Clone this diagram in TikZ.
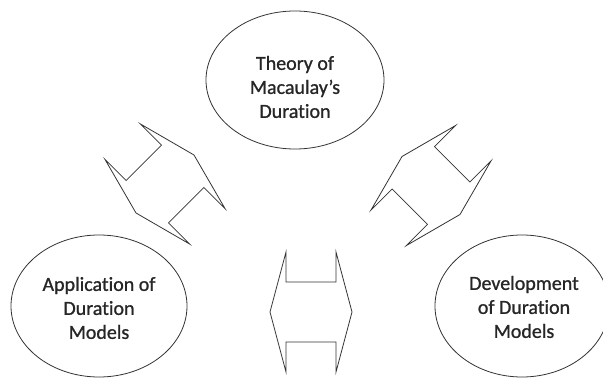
\documentclass[tikz,border=0pt]{standalone}
\usepackage{fontspec}
\setmainfont[RawFeature={-liga}]{Carlito}
\newfontfamily\semib[FakeBold=1,RawFeature={-liga}]{Carlito}
\usetikzlibrary{shapes.geometric}
\tikzset{
  bubble/.style={ellipse, draw=black!80, line width=0.8pt, inner sep=0pt},
  txt/.style={align=center, text=black!85, font=\semib\fontsize{20}{24}\selectfont, inner sep=0pt},
  dbl/.style={draw=black!80, line width=0.8pt, line join=miter},
  pics/dblarrow/.style={code={
    \draw[dbl] (-41,0) -- (-25,60) -- (-25,30) -- (25,30) -- (25,60) -- (41,0)
      -- (25,-60) -- (25,-30) -- (-25,-30) -- (-25,-60) -- cycle;
  }}
}
\begin{document}
\begin{tikzpicture}[x=1pt,y=1pt]
\useasboundingbox (0,0) rectangle (603,378);
\clip (0,0) rectangle (603,378);
\node[bubble, minimum width=178pt, minimum height=138pt] (top) at (295,298) {};
\node[bubble, minimum width=176pt, minimum height=142pt] (left) at (99,72) {};
\node[bubble, minimum width=174pt, minimum height=142pt] (right) at (522,72) {};
\node[txt] (toptxt) at (295,291) {Theory of\\Macaulay’s\\Duration};
\node[txt] (lefttxt) at (99,70) {Application of\\Duration\\Models};
\node[txt] (righttxt) at (524,71) {Development\\of Duration\\Models};
\pic[shift={(165,194)}, rotate=45] (arrL) {dblarrow};
\pic[shift={(431,192.5)}, rotate=-45] (arrR) {dblarrow};
\pic[shift={(311,66)}] (arrB) {dblarrow};
\end{tikzpicture}
\end{document}
